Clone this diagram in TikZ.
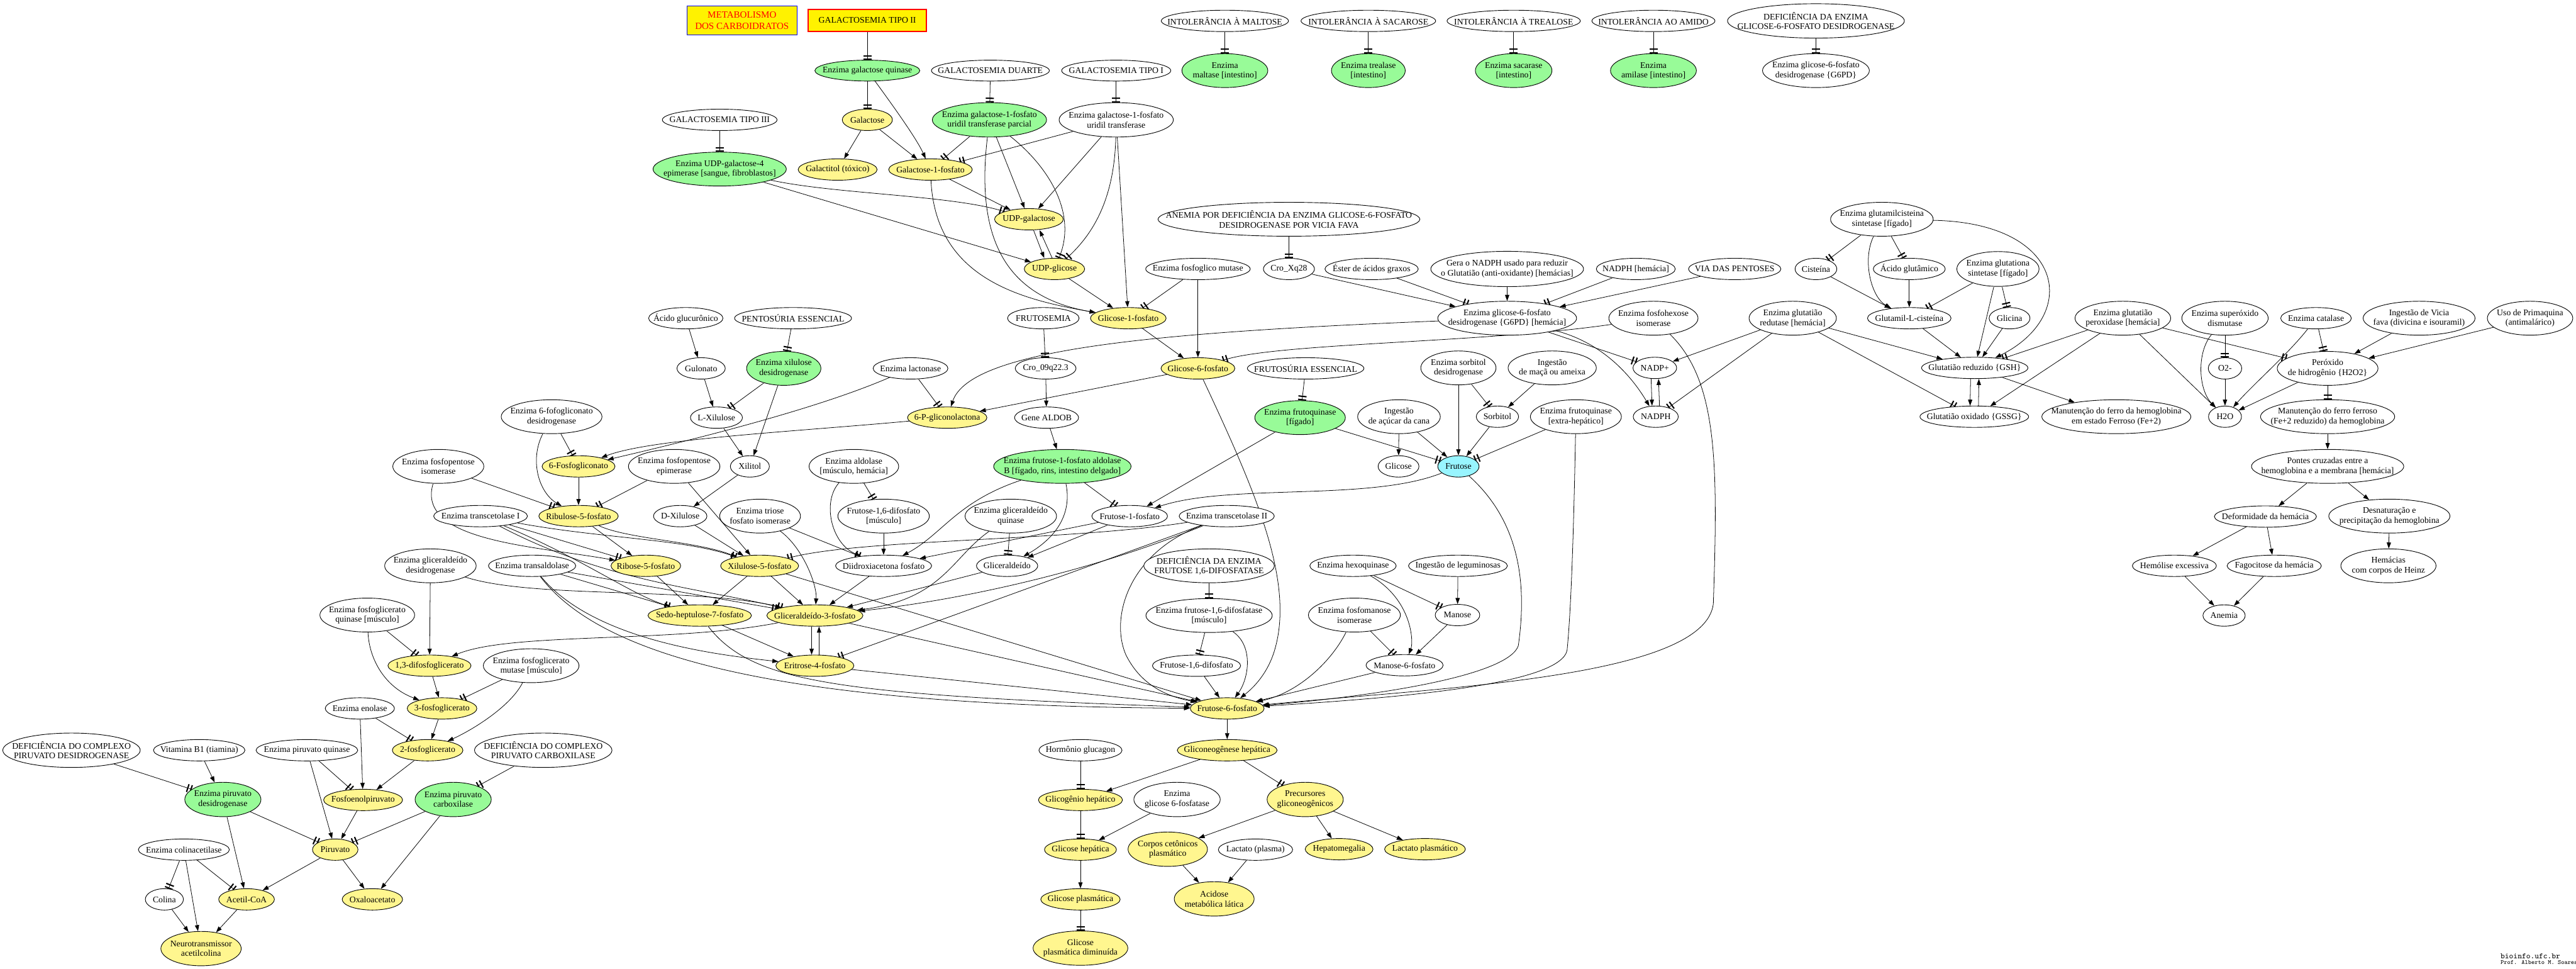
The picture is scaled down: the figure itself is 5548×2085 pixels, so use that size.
\documentclass[tikz,border=0pt]{standalone}
\usepackage{fontspec}
\setmainfont{Liberation Serif}
\usetikzlibrary{arrows.meta,shapes.geometric,backgrounds}
\definecolor{verde}{RGB}{152,251,152}
\definecolor{amarelo}{RGB}{255,246,143}
\definecolor{ciano}{RGB}{152,245,255}
\newcommand\nodefont{\fontsize{5.3pt}{6pt}\selectfont}

\begin{document}
\begin{tikzpicture}[x=0.01cm,y=-0.01cm,
  base/.style={ellipse,draw,line width=0.35pt,inner xsep=-1cm,inner ysep=-0.3cm,align=center,font=\nodefont},
  wn/.style={base,fill=white}, gn/.style={base,fill=verde}, yn/.style={base,fill=amarelo}, cn/.style={base,fill=ciano},
  sz/.style 2 args={minimum width=#1*0.01cm,minimum height=#2*0.01cm},
  bx/.style={rectangle,fill=yellow,line width=0.6pt,inner sep=0pt,align=center},
  ar/.style={line width=0.3pt,-{Triangle[length=3.7pt,width=2.6pt]}},
  tb/.style={line width=0.3pt,-{Bar[width=5pt,line width=0.8pt,sep=1.3pt]Bar[width=5pt,line width=0.8pt]}}]
  \useasboundingbox (0,0) rectangle (5548,2085);

  \node[bx,draw=blue,text=red,sz={237}{62},font=\fontsize{5.8pt}{7pt}\selectfont] (meta) at (1598,44) {METABOLISMO\\DOS CARBOIDRATOS};
  \node[bx,draw=red,sz={255}{48},font=\nodefont] (galII) at (1868,44) {GALACTOSEMIA TIPO II};

  \foreach \n/\x/\y/\w/\h/\t in {
    egq/1868/152/226/45/{Enzima galactose quinase},
    eMalt/2638/152/185/73/{Enzima\\maltase [intestino]},
    eTrea/2947/152/159/73/{Enzima trealase\\{}[intestino]},
    eSac/3260/152/165/73/{Enzima sacarase\\{}[intestino]},
    eAmi/3561/152/185/73/{Enzima\\amilase [intestino]},
    eGUTp/2131/258/246/74/{Enzima galactose-1-fosfato\\uridil transferase parcial},
    eUDPepi/1550/364/287/73/{Enzima UDP-galactose-4\\epimerase [sangue, fibroblastos]},
    eXD/1688/793/160/73/{Enzima xilulose\\desidrogenase},
    eFK/2800/899/195/73/{Enzima frutoquinase\\{}[fígado]},
    eF1PA/2288/1004/296/73/{Enzima frutose-1-fosfato aldolase\\B [fígado, rins, intestino delgado]},
    ePDH/480/1721/164/74/{Enzima piruvato\\desidrogenase},
    ePC/976/1721/164/74/{Enzima piruvato\\carboxilase}}
    \node[gn,sz={\w}{\h}] (\n) at (\x,\y) {\t};

  \foreach \n/\x/\y/\w/\h/\t in {
    galac/1868/258/108/46/Galactose,
    galtol/1804/365/170/46/{Galactitol (tóxico)},
    gal1p/2004/365/180/46/Galactose-1-fosfato,
    udpgal/2216/472/148/46/UDP-galactose,
    udpglc/2271/579/130/46/UDP-glicose,
    glc1p/2430/685/163/46/Glicose-1-fosfato,
    g6p/2580/793/159/46/Glicose-6-fosfato,
    pgl/2040/899/171/46/6-P-gliconolactona,
    pg6/1246/1004/157/46/6-Fosfogliconato,
    ru5p/1246/1111/171/46/Ribulose-5-fosfato,
    r5p/1391/1218/150/46/Ribose-5-fosfato,
    x5p/1636/1218/168/46/Xilulose-5-fosfato,
    s7p/1507/1325/223/46/Sedo-heptulose-7-fosfato,
    gap/1755/1325/207/46/Gliceraldeído-3-fosfato,
    e4p/1755/1433/168/46/Eritrose-4-fosfato,
    f6p/2643/1525/159/46/Frutose-6-fosfato,
    bpg13/925/1433/179/46/{1,3-difosfoglicerato},
    pg3/952/1525/150/46/3-fosfoglicerato,
    pg2/921/1615/152/46/2-fosfoglicerato,
    pep/782/1722/170/46/Fosfoenolpiruvato,
    piruvato/722/1829/98/46/Piruvato,
    acetilCoA/531/1936/120/46/Acetil-CoA,
    oxal/802/1936/130/46/Oxaloacetato,
    neuro/433/2042/173/74/{Neurotransmissor\\acetilcolina},
    gliconeo/2643/1615/215/46/{Gliconeogênese hepática},
    glicogenio/2327/1722/181/46/{Glicogênio hepático},
    precursores/2811/1721/164/74/{Precursores\\gliconeogênicos},
    glicHep/2327/1829/155/46/{Glicose hepática},
    corpos/2515/1828/171/74/{Corpos cetônicos\\plasmático},
    hepato/2884/1828/146/46/Hepatomegalia,
    lactPlas/3069/1828/174/46/{Lactato plasmático},
    glicPl/2327/1936/171/46/{Glicose plasmática},
    acidose/2615/1935/172/74/{Acidose\\metabólica lática},
    glicDim/2327/2041/204/74/{Glicose\\plasmática diminuída}}
    \node[yn,sz={\w}{\h}] (\n) at (\x,\y) {\t};

  \foreach \n/\x/\y/\w/\h/\t in {
    galD/2133/152/254/45/{GALACTOSEMIA DUARTE},
    galI/2404/152/235/45/{GALACTOSEMIA TIPO I},
    intMal/2638/45/274/46/{INTOLERÂNCIA À MALTOSE},
    intSac/2947/45/290/46/{INTOLERÂNCIA À SACAROSE},
    intTre/3260/45/287/46/{INTOLERÂNCIA À TREALOSE},
    intAmi/3561/45/265/46/{INTOLERÂNCIA AO AMIDO},
    defG6PD/3911/45/381/74/{DEFICIÊNCIA DA ENZIMA\\GLICOSE-6-FOSFATO DESIDROGENASE},
    eG6PD/3911/152/230/73/{Enzima glicose-6-fosfato\\desidrogenase \{G6PD\}},
    eGUT/2404/258/246/74/{Enzima galactose-1-fosfato\\uridil transferase},
    galIII/1550/258/247/46/{GALACTOSEMIA TIPO III},
    anemia/2776/472/564/73/{ANEMIA POR DEFICIÊNCIA DA ENZIMA GLICOSE-6-FOSFATO\\DESIDROGENASE POR VICIA FAVA},
    eGCS/4053/472/221/73/{Enzima glutamilcisteina\\sintetase [fígado]},
    croXq/2776/579/110/46/{Cro\_Xq28},
    efgm/2580/579/225/46/{Enzima fosfoglico mutase},
    ester/2954/579/201/46/{Éster de ácidos graxos},
    gera/3246/579/329/76/{Gera o NADPH usado para reduzir\\o Glutatião (anti-oxidante) [hemácias]},
    nadphHem/3523/579/170/46/{NADPH [hemácia]},
    viaPent/3736/579/199/46/{VIA DAS PENTOSES},
    cist/3911/579/90/46/{Cisteína},
    acGlut/4112/579/155/46/{Ácido glutâmico},
    eGS/4303/579/177/75/{Enzima glutationa\\sintetase [fígado]},
    acGlcur/1477/685/160/46/{Ácido glucurônico},
    pentEss/1708/685/252/46/{PENTOSÚRIA ESSENCIAL},
    frutosemia/2247/685/154/46/FRUTOSEMIA,
    eG6PDh/3246/685/299/73/{Enzima glicose-6-fosfato\\desidrogenase \{G6PD\} [hemácia]},
    eFHI/3561/685/192/73/{Enzima fosfohexose\\isomerase},
    eGR/3861/685/188/73/{Enzima glutatião\\redutase [hemácia]},
    glutCis/4112/685/180/46/{Glutamil-L-cisteína},
    glicina/4328/685/88/46/Glicina,
    eGPx/4572/685/206/73/{Enzima glutatião\\peroxidase [hemácia]},
    eSOD/4792/685/186/73/{Enzima superóxido\\dismutase},
    eCat/4988/685/152/46/{Enzima catalase},
    vicia/5210/685/241/73/{Ingestão de Vicia\\fava (divicina e isouramil)},
    prima/5449/685/184/73/{Uso de Primaquina\\(antimalárico)},
    gulonato/1510/793/104/46/Gulonato,
    eLact/1961/793/161/46/{Enzima lactonase},
    cro09/2252/793/131/46/{Cro\_09q22.3},
    frutEss/2812/793/251/46/{FRUTOSÚRIA ESSENCIAL},
    eSDH/3141/792/162/73/{Enzima sorbitol\\desidrogenase},
    ingMaca/3343/792/190/73/{Ingestão\\de maçã ou ameixa},
    nadp/3564/792/94/46/{NADP+},
    glutRed/4253/792/229/46/{Glutatião reduzido \{GSH\}},
    o2/4792/793/72/46/{O2-},
    h2o2/5013/793/217/73/{Peróxido\\de hidrogênio \{H2O2\}},
    e6PGD/1188/897/217/73/{Enzima 6-fofogliconato\\desidrogenase},
    lxil/1543/899/112/46/{L-Xilulose},
    aldob/2254/899/138/46/{Gene ALDOB},
    ingAcucar/3013/897/178/73/{Ingestão\\de açúcar da cana},
    sorbitol/3225/897/91/46/Sorbitol,
    eFKx/3394/897/196/73/{Enzima frutoquinase\\{}[extra-hepático]},
    nadph/3566/897/97/46/NADPH,
    glutOx/4252/897/234/46/{Glutatião oxidado \{GSSG\}},
    manutHb/4558/897/321/73/{Manutenção do ferro da hemoglobina\\em estado Ferroso (Fe+2)},
    h2o/4792/897/71/46/H2O,
    manutFe/5013/897/289/73/{Manutenção do ferro ferroso\\(Fe+2 reduzido) da hemoglobina},
    eFPI/944/1004/196/73/{Enzima fosfopentose\\isomerase},
    eFPE/1452/1004/197/73/{Enzima fosfopentose\\epimerase},
    xilitol/1615/1004/84/46/Xilitol,
    eAld/1839/1004/193/73/{Enzima aldolase\\{}[músculo, hemácia]},
    glicose/3012/1004/88/46/Glicose,
    pontes/5013/1004/328/73/{Pontes cruzadas entre a\\hemoglobina e a membrana [hemácia]},
    eTK1/1035/1111/202/46/{Enzima transcetolase I},
    dxil/1465/1111/115/46/{D-Xilulose},
    eTPI/1637/1111/174/73/{Enzima triose\\fosfato isomerase},
    f16dpm/1903/1111/197/73/{Frutose-1,6-difosfato\\{}[músculo]},
    eGK/2177/1111/197/73/{Enzima gliceraldeído\\quinase},
    f1p/2433/1111/163/46/{Frutose-1-fosfato},
    eTK2/2642/1111/205/46/{Enzima transcetolase II},
    deform/4879/1112/220/46/{Deformidade da hemácia},
    desnat/5146/1111/261/73/{Desnaturação e\\precipitação da hemoglobina},
    eGAPDH/927/1218/197/73/{Enzima gliceraldeído\\desidrogenase},
    eTA/1146/1218/188/46/{Enzima transaldolase},
    dhap/1903/1218/207/46/{Diidroxiacetona fosfato},
    glicald/2169/1218/132/46/Gliceraldeído,
    defF16/2604/1218/281/73/{DEFICIÊNCIA DA ENZIMA\\FRUTOSE 1,6-DIFOSFATASE},
    eHK/2914/1218/186/46/{Enzima hexoquinase},
    ingLeg/3140/1218/213/46/{Ingestão de leguminosas},
    hemolise/4683/1218/181/46/{Hemólise excessiva},
    fagoc/4898/1218/203/46/{Fagocitose da hemácia},
    heinz/5144/1218/205/73/{Hemácias\\com corpos de Heinz},
    ePGK/791/1324/204/73/{Enzima fosfoglicerato\\quinase [músculo]},
    eF16/2604/1325/272/73/{Enzima frutose-1,6-difosfatase\\{}[músculo]},
    eFMI/2917/1324/198/73/{Enzima fosfomanose\\isomerase},
    manose/3139/1324/96/46/Manose,
    anemiaN/4790/1325/91/46/Anemia,
    ePGM/1144/1433/206/73/{Enzima fosfoglicerato\\mutase [músculo]},
    f16dp/2577/1433/190/46/{Frutose-1,6-difosfato},
    m6p/3025/1432/166/46/{Manose-6-fosfato},
    eEno/775/1525/149/46/{Enzima enolase},
    defPDH/154/1615/296/74/{DEFICIÊNCIA DO COMPLEXO\\PIRUVATO DESIDROGENASE},
    vitB1/429/1615/197/46/{Vitamina B1 (tiamina)},
    ePK/661/1615/219/46/{Enzima piruvato quinase},
    defPC/1170/1615/296/74/{DEFICIÊNCIA DO COMPLEXO\\PIRUVATO CARBOXILASE},
    glucagon/2327/1615/179/46/{Hormônio glucagon},
    eG6Pase/2535/1721/186/74/{Enzima\\glicose 6-fosfatase},
    eColAc/396/1829/196/46/{Enzima colinacetilase},
    lactPl/2704/1829/160/46/{Lactato (plasma)},
    colina/354/1936/82/46/Colina}
    \node[wn,sz={\w}{\h}] (\n) at (\x,\y) {\t};

  \node[cn,sz={89}{46}] (frutose) at (3141,1004) {Frutose};

  \node[anchor=west,inner sep=0pt,font=\ttfamily\fontsize{4.9pt}{5pt}\selectfont] (site) at (5385,2058) {bioinfo.ufc.br};
  \node[anchor=west,inner sep=0pt,font=\ttfamily\fontsize{3.8pt}{4pt}\selectfont] (prof) at (5385,2072) {Prof. Alberto M. Soares};

  \begin{scope}[on background layer]
    \foreach \a/\b in {galac/galtol, galac/gal1p, gal1p/udpgal, eGUTp/udpgal, eGUT/udpgal, eUDPepi/udpglc, eGUT/glc1p,
      udpglc/glc1p, efgm/g6p, glc1p/g6p, g6p/pgl, croXq/eG6PDh, gera/eG6PDh, viaPent/eG6PDh, acGlcur/gulonato,
      gulonato/lxil, lxil/xilitol, eXD/xilitol, xilitol/dxil, dxil/x5p, cro09/aldob, aldob/eF1PA, pg6/ru5p, ru5p/r5p,
      eFPE/x5p, eFK/f1p, f1p/dhap, f1p/glicald, glicald/gap, dhap/gap, f16dpm/dhap, r5p/s7p, x5p/s7p, x5p/gap,
      x5p/f6p, gap/f6p, e4p/f6p, f16dp/f6p, m6p/f6p, manose/m6p, ingLeg/manose, ingAcucar/glicose, ingAcucar/frutose,
      eSDH/frutose, sorbitol/frutose, ingMaca/sorbitol, eGR/nadp, eGR/glutRed, cist/glutCis, acGlut/glutCis,
      glutCis/glutRed, glicina/glutRed, eGS/glutRed, eGPx/glutOx, eGPx/h2o, glutRed/manutHb, o2/h2o, h2o2/h2o,
      vicia/h2o2, prima/h2o2, manutFe/pontes, pontes/deform, pontes/desnat, deform/hemolise, deform/fagoc,
      desnat/heinz, hemolise/anemiaN, fagoc/anemiaN, eGAPDH/bpg13, bpg13/pg3, pg3/pg2, eEno/pep, pg2/pep,
      ePK/piruvato, pep/piruvato, vitB1/ePDH, ePDH/acetilCoA, ePC/oxal, piruvato/acetilCoA, piruvato/oxal,
      eColAc/neuro, colina/neuro, acetilCoA/neuro, f6p/gliconeo, gliconeo/glicogenio, eG6Pase/glicHep,
      glicHep/glicPl, precursores/corpos, precursores/hepato, precursores/lactPlas, corpos/acidose,
      lactPl/acidose, s7p/e4p}
      \draw[ar] (\a) -- (\b);

    \foreach \a/\b in {galII/egq, egq/galac, galD/eGUTp, galI/eGUT, galIII/eUDPepi, intMal/eMalt, intSac/eTrea,
      intTre/eSac, intAmi/eAmi, defG6PD/eG6PD, anemia/croXq, eGUTp/gal1p, eGUT/gal1p, efgm/glc1p, ester/eG6PDh,
      nadphHem/eG6PDh, eG6PDh/nadp, eGCS/cist, eGCS/acGlut, eGS/glutCis, eGS/glicina, eGR/glutOx, eGR/nadph,
      eGPx/glutRed, eGPx/h2o2, eSOD/o2, eCat/h2o2, h2o2/manutFe, pentEss/eXD, eXD/lxil, eLact/pgl,
      frutosemia/cro09, frutEss/eFK, eFK/frutose, eSDH/sorbitol, eFKx/frutose, e6PGD/pg6, eFPI/ru5p, eFPE/ru5p,
      eTK1/r5p, eTA/s7p, eTA/gap, eTK2/e4p, eAld/f16dpm, eTPI/dhap, eGK/glicald, eF1PA/f1p, defF16/eF16,
      eF16/f16dp, eHK/manose, eFMI/m6p, ePGK/bpg13, ePGM/pg3, eEno/pg2, ePK/pep, defPDH/ePDH, ePDH/piruvato,
      defPC/ePC, ePC/piruvato, eColAc/colina, eColAc/acetilCoA, glucagon/glicogenio, glicogenio/glicHep,
      glicPl/glicDim, gliconeo/precursores}
      \draw[tb] (\a) -- (\b);

    \draw[ar] ([xshift=0.1cm]udpgal.south) -- ([xshift=-0.22cm]udpglc.north);
    \draw[ar] ([xshift=-0.05cm]udpglc.north) -- ([xshift=0.23cm]udpgal.south);
    \draw[ar] ([xshift=-0.08cm]nadp.south) -- ([xshift=-0.08cm]nadph.north);
    \draw[ar] ([xshift=0.08cm]nadph.north) -- ([xshift=0.08cm]nadp.south);
    \draw[ar] ([xshift=-0.09cm]glutRed.south) -- ([xshift=-0.09cm]glutOx.north);
    \draw[ar] ([xshift=0.09cm]glutOx.north) -- ([xshift=0.09cm]glutRed.south);
    \draw[ar] ([xshift=-0.07cm]gap.south) -- ([xshift=-0.07cm]e4p.north);
    \draw[ar] ([xshift=0.09cm]e4p.north) -- ([xshift=0.09cm]gap.south);

    \draw[ar] (egq) .. controls (1925,230) and (1975,300) .. (gal1p);
    \draw[tb] (eUDPepi) .. controls (1800,418) and (2050,420) .. (udpgal);
    \draw[ar] (gal1p) .. controls (2015,600) and (2200,645) .. (glc1p);
    \draw[ar] (eGUTp) .. controls (2100,520) and (2170,640) .. (glc1p);
    \draw[tb] (eGUTp) .. controls (2260,360) and (2320,460) .. (udpglc);
    \draw[tb] (eGUT) .. controls (2400,420) and (2360,500) .. (udpglc);
    \draw[ar] (eG6PDh) .. controls (2500,715) and (2090,750) .. (pgl);
    \draw[tb] (eFHI) .. controls (3200,738) and (2750,738) .. (g6p);
    \draw[ar] (eG6PDh) .. controls (3460,740) and (3520,820) .. (nadph);
    \draw[ar] (eFHI) .. controls (3700,820) and (3700,1000) .. (3690,1300) .. controls (3670,1460) and (3100,1480) .. (f6p);
    \draw[ar] (frutose) .. controls (3270,1120) and (3290,1250) .. (3270,1390) .. controls (3250,1450) and (3000,1495) .. (f6p);
    \draw[ar] (eFKx) .. controls (3390,1100) and (3385,1300) .. (3375,1400) .. controls (3360,1470) and (3050,1500) .. (f6p);
    \draw[ar] (eFMI) .. controls (2870,1420) and (2800,1490) .. (f6p);
    \draw[ar] (g6p) .. controls (2700,1050) and (2790,1250) .. (2745,1400) .. controls (2730,1450) and (2700,1480) .. (f6p);
    \draw[ar] (eTK2) .. controls (2430,1190) and (2390,1330) .. (2425,1410) .. controls (2460,1480) and (2520,1500) .. (f6p);
    \draw[ar] (eF16) .. controls (2700,1390) and (2690,1460) .. (f6p);
    \draw[ar] (s7p) .. controls (1620,1470) and (1800,1495) .. (f6p);
    \draw[ar] (eTA) .. controls (1300,1420) and (1700,1520) .. (f6p);
    \draw[ar] (eTA) .. controls (1280,1380) and (1550,1410) .. (e4p);
    \draw[ar] (eTK2) .. controls (2300,1250) and (2000,1300) .. (gap);
    \draw[tb] (eTK2) .. controls (2300,1165) and (1850,1160) .. (x5p);
    \draw[tb] (eTK1) .. controls (1300,1160) and (1480,1160) .. (x5p);
    \draw[ar] (ru5p) .. controls (1350,1160) and (1500,1165) .. (x5p);
    \draw[ar] (eFPI) .. controls (895,1165) and (1150,1175) .. (r5p);
    \draw[ar] (eTK1) .. controls (1250,1200) and (1360,1280) .. (s7p);
    \draw[ar] (eTK1) .. controls (1300,1250) and (1500,1265) .. (gap);
    \draw[tb] (eGAPDH) .. controls (1150,1290) and (1500,1262) .. (gap);
    \draw[ar] (gap) .. controls (1450,1385) and (1100,1360) .. (bpg13);
    \draw[ar] (ePGK) .. controls (795,1420) and (830,1480) .. (pg3);
    \draw[ar] (ePGM) .. controls (1100,1520) and (1020,1570) .. (pg2);
    \draw[ar] (eAld) .. controls (1770,1080) and (1790,1170) .. (dhap);
    \draw[ar] (eF1PA) .. controls (2060,1080) and (2030,1150) .. (dhap);
    \draw[ar] (eF1PA) .. controls (2310,1110) and (2270,1160) .. (glicald);
    \draw[ar] (eGK) .. controls (2050,1200) and (2030,1290) .. (gap);
    \draw[ar] (eTPI) .. controls (1730,1180) and (1760,1260) .. (gap);
    \draw[ar] (frutose) .. controls (2950,1080) and (2650,1040) .. (f1p);
    \draw[ar] (eHK) .. controls (3040,1290) and (3045,1380) .. (m6p);
    \draw[ar] (eGCS) .. controls (4450,480) and (4480,680) .. (glutRed);
    \draw[ar] (eGCS) .. controls (4010,560) and (4030,640) .. (glutCis);
    \draw[ar] (eSOD) .. controls (4730,760) and (4735,840) .. (h2o);
    \draw[ar] (eCat) .. controls (4930,760) and (4850,830) .. (h2o);
    \draw[ar] (eLact) .. controls (1760,880) and (1500,945) .. (pg6);
    \draw[ar] (pgl) .. controls (1700,930) and (1400,945) .. (pg6);
    \draw[ar] (e6PGD) .. controls (1140,990) and (1160,1060) .. (ru5p);
  \end{scope}
\end{tikzpicture}
\end{document}
